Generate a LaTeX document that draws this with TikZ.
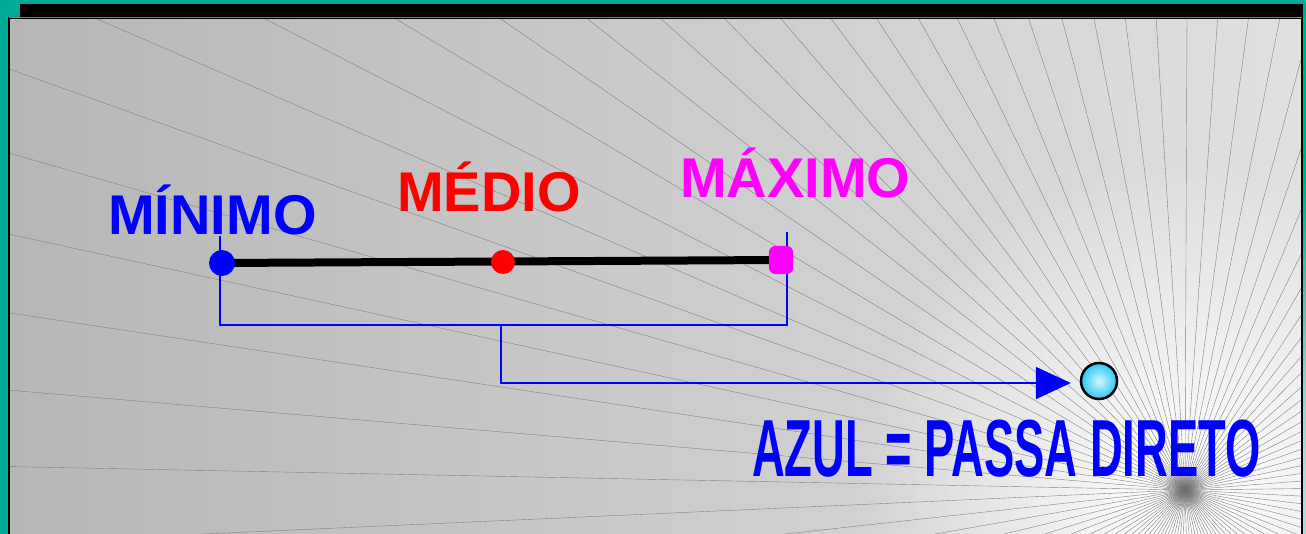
\documentclass[tikz,border=0pt]{standalone}
\usepackage{fontspec}
\setmainfont{Liberation Sans}
\usetikzlibrary{arrows.meta,fadings}
\definecolor{tealbg}{RGB}{0,170,152}
\definecolor{panelleft}{RGB}{182,182,182}
\definecolor{panelright}{RGB}{224,224,224}
\definecolor{raycolor}{RGB}{128,128,128}
\definecolor{minblue}{RGB}{0,0,255}
\definecolor{medred}{RGB}{255,0,0}
\definecolor{maxmagenta}{RGB}{255,0,255}
\definecolor{ballin}{RGB}{215,245,255}
\definecolor{ballout}{RGB}{40,200,240}
\tikzfading[name=glowfade, inner color=transparent!0, outer color=transparent!100]

\begin{document}
\begin{tikzpicture}[yscale=-1
,pray/.style={color=raycolor,line width=0.4pt}
,pwire/.style={color=minblue,line width=2pt}
,pdot/.style={circle,inner sep=0pt,minimum size=26pt}
,plabel/.style={anchor=base west,inner sep=0pt,font=\fontsize{56pt}{60pt}\selectfont\bfseries}
]
\useasboundingbox (0pt,0pt) rectangle (1306pt,534pt);
\fill[tealbg] (0pt,0pt) rectangle (1306pt,534pt);
\fill[black] (20pt,4pt) rectangle (1303pt,17pt);
\shade[left color=panelleft,right color=panelright] (9pt,18pt) rectangle (1302pt,534pt);
\fill[white,path fading=glowfade] (1185pt,490pt) circle (330pt);
\begin{scope}
\clip (9pt,18pt) rectangle (1302pt,534pt);
\foreach \k in {0,...,96}
  \draw[pray] (1185pt,490pt) -- ++(270.24+\k*3.711:1500pt);
\fill[black!60,opacity=0.7,path fading=glowfade] (1185pt,490pt) circle (22pt);
\end{scope}
\draw[black,line width=2pt] (9pt,534pt) -- (9pt,18pt) -- (1302pt,18pt) -- (1302pt,534pt);
\draw[gray,line width=1pt] (9pt,18pt) -- (1302pt,18pt);
% labels
\node[plabel,color=minblue] (lblmin) at (108pt,235pt) {MÍNIMO};
\node[plabel,color=medred] (lblmed) at (397pt,212pt) {MÉDIO};
\node[plabel,color=maxmagenta] (lblmax) at (680pt,198pt) {MÁXIMO};
% scale
\coordinate (minstem) at (220pt,236pt);
\coordinate (maxstem) at (787pt,232pt);
\coordinate (minfoot) at (220pt,325pt);
\coordinate (maxfoot) at (787pt,325pt);
\coordinate (medfoot) at (501pt,325pt);
\node[pdot] (dotmin) at (222pt,263pt) {};
\node[pdot,minimum size=24pt] (dotmed) at (503pt,262pt) {};
\node[inner sep=0pt,minimum width=24pt,minimum height=28pt] (dotmax) at (781pt,260pt) {};
\draw[pwire] (minstem) -- (minfoot) -- (maxfoot) -- (maxstem);
\draw[black,line width=8pt] (dotmin.center) -- (dotmax.center);
\fill[minblue] (dotmin) circle (13pt);
\fill[medred] (dotmed) circle (12pt);
\fill[maxmagenta,rounded corners=7pt] (dotmax.south west) rectangle (dotmax.north east);
% result
\shade[inner color=ballin,outer color=ballout] (1099pt,381pt) circle (18pt);
\draw[black,line width=2.5pt] (1099pt,381pt) circle (18pt);
\node[circle,inner sep=0pt,minimum size=38pt] (ball) at (1099pt,381pt) {};
\coordinate (arrowtip) at ([xshift=-9pt,yshift=2pt]ball.west);
\draw[pwire,-{Triangle[length=35pt,width=32pt]}] (medfoot) |- (arrowtip);
\node[anchor=base west,inner sep=0pt,color=minblue,xscale=0.56,font=\fontsize{81pt}{84pt}\selectfont\bfseries] (lblres) at (752pt,476pt) {AZUL = PASSA DIRETO};
\end{tikzpicture}
\end{document}
